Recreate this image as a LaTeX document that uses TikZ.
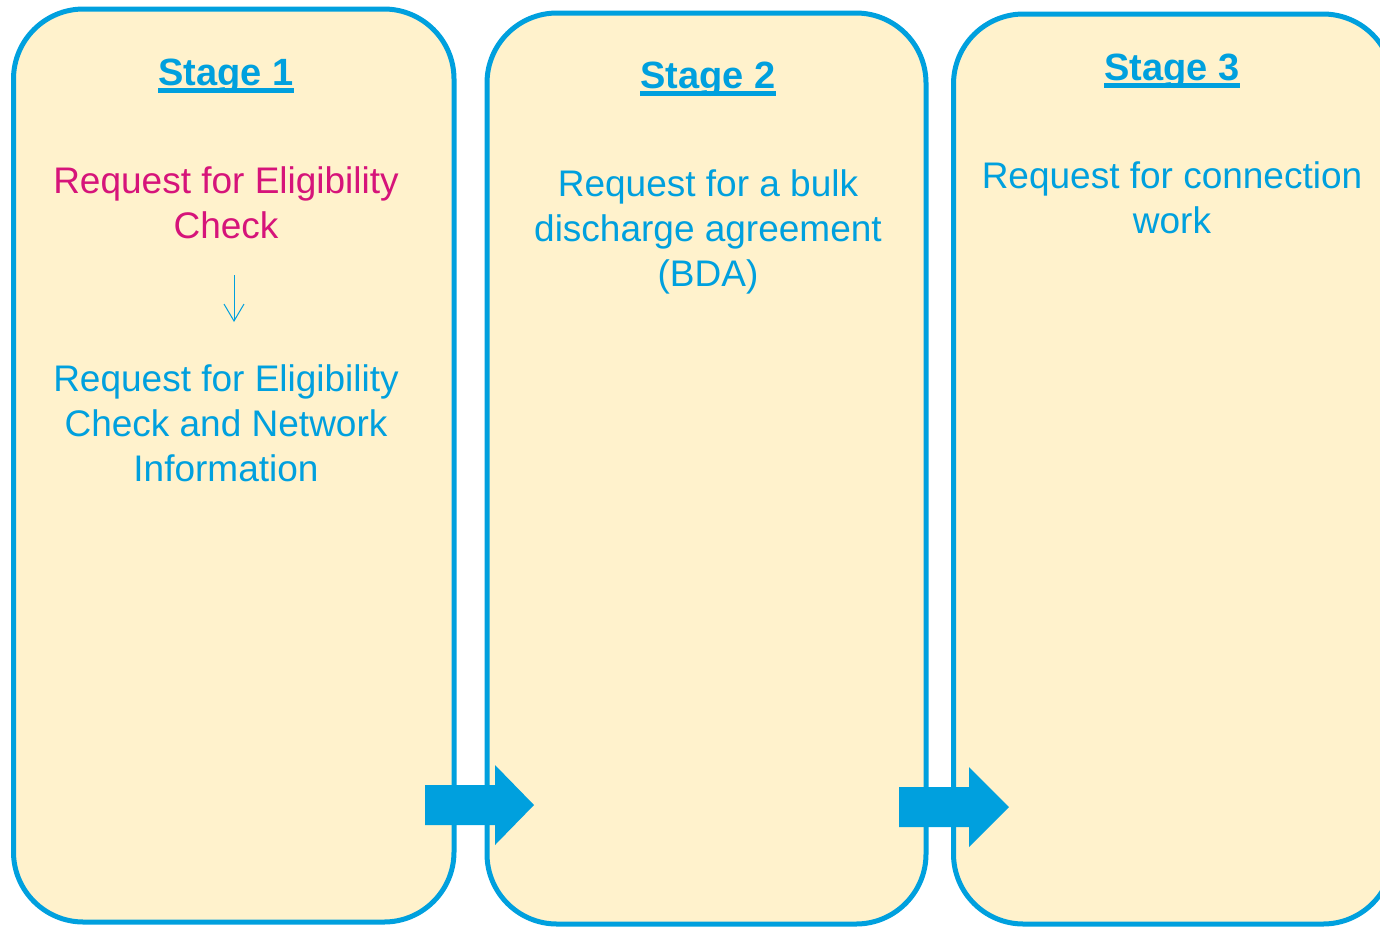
\documentclass[tikz,border=0pt]{standalone}
\usepackage{fontspec}
\setmainfont{Liberation Sans}
\usetikzlibrary{arrows.meta}
\definecolor{stageblue}{RGB}{0,160,222}
\definecolor{stagepink}{RGB}{214,20,122}
\definecolor{stagefill}{RGB}{255,242,204}
\newcommand{\stagetitle}[1]{\setbox0\hbox{\bfseries #1}\rlap{\rule[-3.85pt]{\wd0}{2.2pt}}\box0}

\begin{document}
\begin{tikzpicture}[x=.5pt,y=-.5pt,
    stagebox/.style={draw=stageblue,line width=2.5pt,fill=stagefill,rounded corners=35pt,inner sep=0pt},
    title/.style={anchor=base,inner sep=0pt,text=stageblue,font=\fontsize{19}{22.5}\selectfont},
    body/.style={anchor=base,inner sep=0pt,align=center,font=\fontsize{18.5}{22.5}\selectfont},
    downarrow/.style={draw=stageblue,line width=.5pt,-{Straight Barb[length=8.5pt,width=10pt]}},
    bigarrow/.style={fill=stageblue}]
    \useasboundingbox (0,0) rectangle (1380,927);

    % stage boxes
    \node[stagebox,minimum width=220.25pt,minimum height=456.5pt] (box1) at (233.75,465.5) {};
    \node[stagebox,minimum width=219.5pt,minimum height=455.5pt] (box2) at (706.5,468.5) {};
    \node[stagebox,minimum width=219.75pt,minimum height=455pt] (box3) at (1173.25,469) {};

    % stage 1 (body nodes sit on their last baseline)
    \node[title] (st1) at (226,85) {\stagetitle{Stage 1}};
    \node[body,text=stagepink] (elig) at (226,238) {Request for Eligibility\\Check};
    \node[body,text=stageblue] (elignet) at (226,481) {Request for Eligibility\\Check and Network\\Information};
    \coordinate (dstart) at (234,275);
    \coordinate (dend) at (234,322);
    \draw[downarrow] (dstart) -- (dend);

    % stage 2
    \node[title] (st2) at (708,88) {\stagetitle{Stage 2}};
    \node[body,text=stageblue] (bda) at (708,286) {Request for a bulk\\discharge agreement\\(BDA)};

    % stage 3
    \node[title] (st3) at (1172,80) {\stagetitle{Stage 3}};
    \node[body,text=stageblue] (conn) at (1172,233) {Request for connection\\work};

    % arrows between stages
    \fill[bigarrow] (425,785) -- (495,785) -- (495,765) -- (534,805) -- (495,845) -- (495,825) -- (425,825) -- cycle;
    \fill[bigarrow] (899,787) -- (969,787) -- (969,767) -- (1009,807) -- (969,847) -- (969,827) -- (899,827) -- cycle;
\end{tikzpicture}
\end{document}
